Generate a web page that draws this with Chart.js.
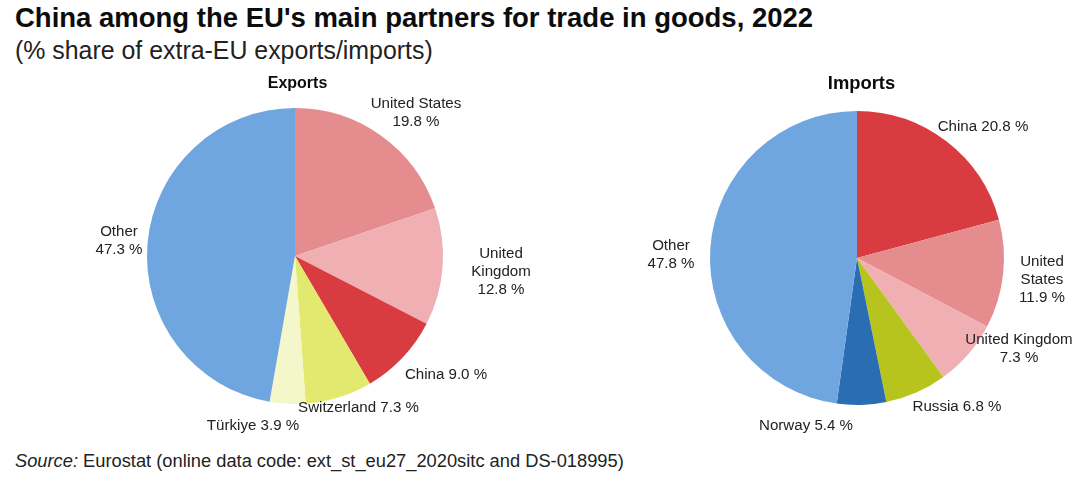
<!DOCTYPE html>
<html><head><meta charset="utf-8">
<script src="https://cdn.jsdelivr.net/npm/chart.js@4"></script>
<style>
html,body{margin:0;padding:0;background:#fff;width:1080px;height:488px;overflow:hidden}
body{position:relative;font-family:"Liberation Sans",Arial,sans-serif;color:#111}
canvas{position:absolute;left:0;top:0}
.t{position:absolute;white-space:nowrap;line-height:1}
</style></head><body>
<div class="t" style="left:15px;top:4px;font-size:27.5px;font-weight:bold;color:#0c0c0c">China among the EU's main partners for trade in goods, 2022</div>
<div class="t" style="left:15px;top:38px;font-size:24.9px;color:#222">(% share of extra-EU exports/imports)</div>
<div class="t" style="left:15px;top:452px;font-size:18.3px;color:#222"><i>Source:</i> Eurostat (online data code: ext_st_eu27_2020sitc and DS-018995)</div>
<canvas id="c1" width="1080" height="488"></canvas>
<canvas id="c2" width="1080" height="488"></canvas>
<script>
const exportCategories = ["United States","United Kingdom","China","Switzerland","Türkiye","Other"];
const exportValues = [19.8,12.8,9.0,7.3,3.9,47.3];
const importCategories = ["China","United States","United Kingdom","Russia","Norway","Other"];
const importValues = [20.8,11.9,7.3,6.8,5.4,47.8];
const exportColors = ["#E58C8E","#F0AFB3","#D83C40","#E3E96E","#F3F7C9","#70A6E0"];
const importColors = ["#D83C40","#E58C8E","#F0AFB3","#B8C41E","#2A6DB3","#70A6E0"];
// label layout: [centre x, first-line y, line breaks in the name]
const exportLabelLayout = [
  {x:416,y:104,lines:["United States","@"]},
  {x:501,y:254,lines:["United","Kingdom","@"]},
  {x:446,y:375,lines:["# @"]},
  {x:358.5,y:408,lines:["# @"]},
  {x:253,y:426,lines:["# @"]},
  {x:119,y:232,lines:["Other","@"]}];
const importLabelLayout = [
  {x:983,y:127,lines:["# @"]},
  {x:1042,y:262,lines:["United","States","@"]},
  {x:1019,y:340,lines:["United Kingdom","@"]},
  {x:957,y:407,lines:["# @"]},
  {x:806,y:426,lines:["# @"]},
  {x:671,y:246,lines:["Other","@"]}];

const labelPlugin = {
  id:'sliceLabels',
  afterDraw(chart,args,opts){
    const ctx=chart.ctx, d=chart.data;
    ctx.save();
    ctx.textAlign='center';ctx.textBaseline='middle';ctx.fillStyle='#222';
    ctx.font='15.1px "Liberation Sans",Arial,sans-serif';
    opts.layout.forEach((p,i)=>{
      const val=d.datasets[0].data[i].toFixed(1)+' %';
      p.lines.forEach((l,j)=>{
        ctx.fillText(l.replace('#',d.labels[i]).replace('@',val),p.x,p.y+j*18);
      });
    });
    ctx.fillStyle='#0c0c0c';
    ctx.font='bold '+opts.titleSize+'px "Liberation Sans",Arial,sans-serif';
    ctx.fillText(opts.title,opts.titleX,84);
    ctx.restore();
  }
};
function pie(id,labels,data,colors,padding,layout,title,titleX,titleSize){
  new Chart(document.getElementById(id),{
    type:'pie',
    data:{labels,datasets:[{data,backgroundColor:colors,borderWidth:0}]},
    options:{responsive:false,animation:false,devicePixelRatio:1,
      layout:{padding},
      plugins:{legend:{display:false},tooltip:{enabled:false},
        sliceLabels:{layout,title,titleX,titleSize}}},
    plugins:[labelPlugin]
  });
}
pie('c1',exportCategories,exportValues,exportColors,{left:146,right:636,top:108,bottom:84},exportLabelLayout,'Exports',297.5,16);
pie('c2',importCategories,importValues,importColors,{left:710,right:76,top:111,bottom:83},importLabelLayout,'Imports',861.5,18.4);
</script>
</body></html>
